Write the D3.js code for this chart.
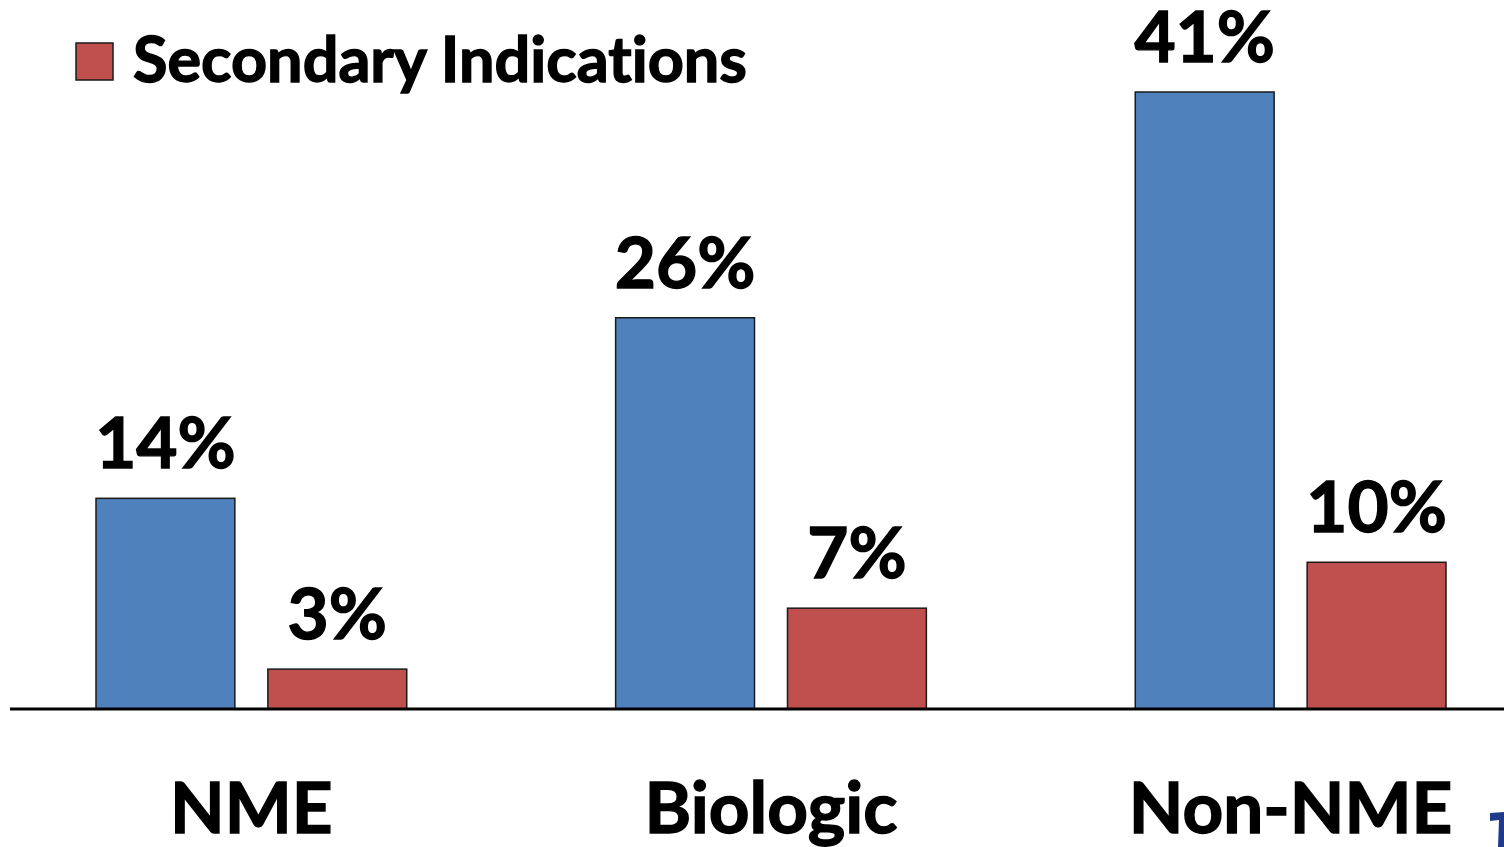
<!DOCTYPE html>
<html>
<head>
<meta charset="utf-8">
<script src="https://cdn.jsdelivr.net/npm/d3@7"></script>
<style>
  html, body { margin: 0; padding: 0; background: #fff; }
  svg { display: block; }
  text { font-family: Lato, "Open Sans", sans-serif; font-weight: 700; fill: #000; stroke: #000; stroke-width: 1.4px; font-variant-ligatures: none; font-feature-settings: "liga" 0, "clig" 0; }
</style>
</head>
<body>
<svg id="chart" width="1504" height="847"></svg>
<script>
// ---- data ----
const categories = ["NME", "Biologic", "Non-NME"];
const seriesNames = ["Primary Indications", "Secondary Indications"];
const primaryValues = [14, 26, 41];
const secondaryValues = [2.65, 6.7, 9.75];
const primaryLabels = ["14%", "26%", "41%"];
const secondaryLabels = ["3%", "7%", "10%"];
const seriesColors = ["#4f81bd", "#c0504d"];

// ---- layout ----
const W = 1504, H = 847;
const baseY = 709;
const svg = d3.select("#chart");

const x0 = d3.scaleBand().domain(categories).range([96, 1446]).paddingInner(0.402).paddingOuter(0);
const x1 = d3.scaleBand().domain(seriesNames).range([0, x0.bandwidth()]).paddingInner(0.192).paddingOuter(0);
const y = d3.scaleLinear().domain([0, 41]).range([baseY, 92]);

const rows = categories.map((c, i) => ({
  cat: c,
  vals: [
    { s: seriesNames[0], v: primaryValues[i], label: primaryLabels[i], color: seriesColors[0] },
    { s: seriesNames[1], v: secondaryValues[i], label: secondaryLabels[i], color: seriesColors[1] }
  ]
}));

const groups = svg.append("g").selectAll("g").data(rows).join("g")
  .attr("transform", d => `translate(${x0(d.cat)},0)`);

groups.selectAll("rect").data(d => d.vals).join("rect")
  .attr("x", d => x1(d.s))
  .attr("y", d => y(d.v))
  .attr("width", x1.bandwidth())
  .attr("height", d => baseY - y(d.v))
  .attr("fill", d => d.color)
  .attr("stroke", "#1a1a1a")
  .attr("stroke-width", 1.5);

groups.selectAll("text.val").data(d => d.vals).join("text")
  .attr("class", "val")
  .attr("x", d => x1(d.s) + x1.bandwidth() / 2)
  .attr("y", d => y(d.v) - 30)
  .attr("text-anchor", "middle")
  .style("font-size", "71px")
  .text(d => d.label);

// category axis
const axis = d3.axisBottom(x0).tickSize(0).tickPadding(0);
const ax = svg.append("g").attr("transform", `translate(0,${baseY})`).call(axis);
ax.select(".domain").remove();
ax.selectAll("text")
  .attr("dy", null)
  .attr("y", 124)
  .style("font-size", "71px")
  .style("font-family", "Lato, 'Open Sans', sans-serif")
  .style("font-weight", 700)
  .attr("fill", "#000")
  .attr("stroke", "#000")
  .attr("stroke-width", 1.4);

// baseline
svg.append("line")
  .attr("x1", 10).attr("x2", W)
  .attr("y1", baseY).attr("y2", baseY)
  .attr("stroke", "#000").attr("stroke-width", 3);

// legend (secondary series)
const lg = svg.append("g").attr("transform", "translate(76,43)");
lg.append("rect").attr("width", 37).attr("height", 37)
  .attr("fill", seriesColors[1]).attr("stroke", "#1a1a1a").attr("stroke-width", 1.5);
lg.append("text").attr("x", 57).attr("y", 39)
  .style("font-size", "63px")
  .text(seriesNames[1]);

// logo fragment at bottom right
svg.append("path")
  .attr("d", "M1490,813 L1504,812 L1504,847 L1498,847 L1499,820 L1490,821 Z")
  .attr("fill", "#1f3a8a");
</script>
</body>
</html>
